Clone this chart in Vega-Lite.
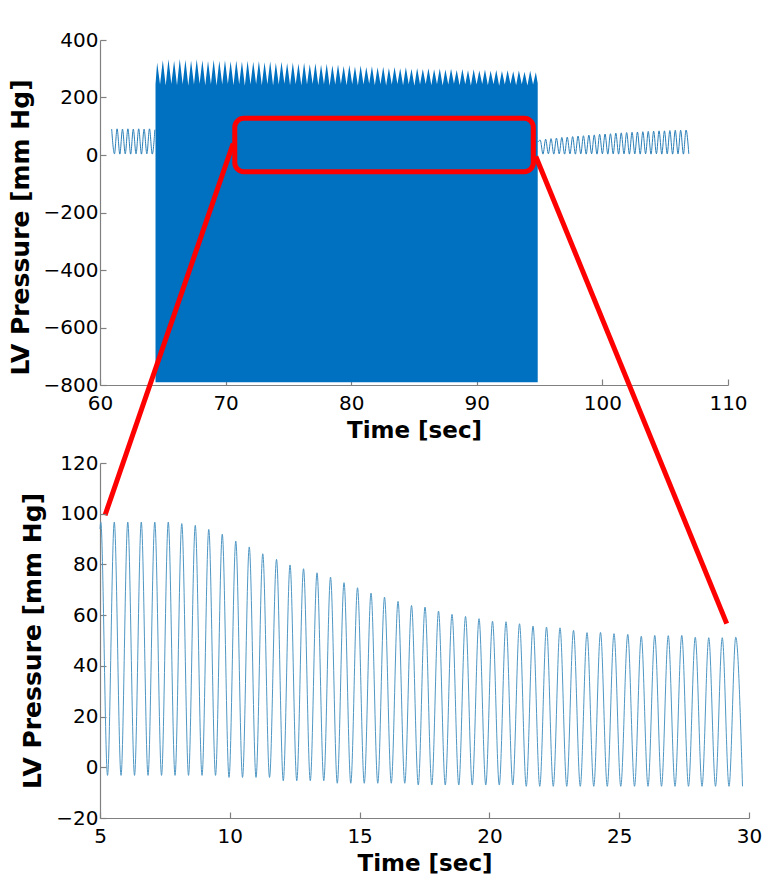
{
  "$schema": "https://vega.github.io/schema/vega-lite/v6.json",
  "autosize": {"type": "pad"},
  "padding": {"left": 8, "top": 30, "right": 10, "bottom": 0},
  "spacing": 78,
  "bounds": "flush",
  "background": "white",
  "config": {
    "view": {"stroke": null},
    "axis": {
      "grid": false,
      "domainColor": "#808080",
      "tickColor": "#808080",
      "domainWidth": 1.2,
      "tickWidth": 1.2,
      "tickSize": -6,
      "labelFont": "DejaVu Sans",
      "labelFontSize": 20,
      "labelColor": "#000000",
      "labelFlush": false,
      "labelOverlap": false,
      "titleFont": "DejaVu Sans",
      "titleFontWeight": "bold",
      "titleColor": "#000000"
    },
    "axisX": {"labelPadding": 14, "titlePadding": 6, "titleFontSize": 23},
    "axisY": {"labelPadding": 8, "titlePadding": 10, "titleFontSize": 25}
  },
  "datasets": {
    "block": [
      {"t":64.42,"p":246},
      {"t":64.55,"p":322},{"t":64.78,"p":245},
      {"t":65.00,"p":330},{"t":65.23,"p":242},
      {"t":65.45,"p":333},{"t":65.68,"p":247},
      {"t":65.90,"p":328},{"t":66.13,"p":243},
      {"t":66.35,"p":334},{"t":66.58,"p":246},
      {"t":66.80,"p":331},{"t":67.03,"p":241},
      {"t":67.25,"p":329},{"t":67.48,"p":245},
      {"t":67.70,"p":333},{"t":67.93,"p":248},
      {"t":68.15,"p":330},{"t":68.38,"p":243},
      {"t":68.60,"p":327},{"t":68.83,"p":246},
      {"t":69.05,"p":331},{"t":69.28,"p":242},
      {"t":69.50,"p":328},{"t":69.73,"p":245},
      {"t":69.95,"p":330},{"t":70.18,"p":247},
      {"t":70.40,"p":326},{"t":70.63,"p":243},
      {"t":70.85,"p":329},{"t":71.08,"p":246},
      {"t":71.30,"p":325},{"t":71.53,"p":241},
      {"t":71.75,"p":328},{"t":71.98,"p":245},
      {"t":72.20,"p":324},{"t":72.43,"p":247},
      {"t":72.65,"p":327},{"t":72.88,"p":243},
      {"t":73.10,"p":323},{"t":73.33,"p":246},
      {"t":73.55,"p":326},{"t":73.78,"p":242},
      {"t":74.00,"p":321},{"t":74.23,"p":245},
      {"t":74.45,"p":324},{"t":74.68,"p":248},
      {"t":74.90,"p":320},{"t":75.13,"p":243},
      {"t":75.35,"p":322},{"t":75.58,"p":246},
      {"t":75.80,"p":318},{"t":76.03,"p":242},
      {"t":76.25,"p":321},{"t":76.48,"p":245},
      {"t":76.70,"p":316},{"t":76.93,"p":247},
      {"t":77.15,"p":319},{"t":77.38,"p":243},
      {"t":77.60,"p":314},{"t":77.83,"p":246},
      {"t":78.05,"p":317},{"t":78.28,"p":241},
      {"t":78.50,"p":312},{"t":78.73,"p":245},
      {"t":78.95,"p":315},{"t":79.18,"p":247},
      {"t":79.40,"p":310},{"t":79.63,"p":243},
      {"t":79.85,"p":313},{"t":80.08,"p":246},
      {"t":80.30,"p":308},{"t":80.53,"p":242},
      {"t":80.75,"p":311},{"t":80.98,"p":245},
      {"t":81.20,"p":306},{"t":81.43,"p":248},
      {"t":81.65,"p":309},{"t":81.88,"p":243},
      {"t":82.10,"p":305},{"t":82.33,"p":246},
      {"t":82.55,"p":307},{"t":82.78,"p":242},
      {"t":83.00,"p":303},{"t":83.23,"p":245},
      {"t":83.45,"p":306},{"t":83.68,"p":247},
      {"t":83.90,"p":302},{"t":84.13,"p":243},
      {"t":84.35,"p":305},{"t":84.58,"p":246},
      {"t":84.80,"p":300},{"t":85.03,"p":241},
      {"t":85.25,"p":303},{"t":85.48,"p":245},
      {"t":85.70,"p":299},{"t":85.93,"p":247},
      {"t":86.15,"p":302},{"t":86.38,"p":243},
      {"t":86.60,"p":298},{"t":86.83,"p":246},
      {"t":87.05,"p":301},{"t":87.28,"p":242},
      {"t":87.50,"p":297},{"t":87.73,"p":245},
      {"t":87.95,"p":300},{"t":88.18,"p":248},
      {"t":88.40,"p":296},{"t":88.63,"p":243},
      {"t":88.85,"p":299},{"t":89.08,"p":246},
      {"t":89.30,"p":295},{"t":89.53,"p":242},
      {"t":89.75,"p":298},{"t":89.98,"p":245},
      {"t":90.20,"p":294},{"t":90.43,"p":247},
      {"t":90.65,"p":297},{"t":90.88,"p":243},
      {"t":91.10,"p":293},{"t":91.33,"p":246},
      {"t":91.55,"p":296},{"t":91.78,"p":241},
      {"t":92.00,"p":292},{"t":92.23,"p":245},
      {"t":92.45,"p":295},{"t":92.68,"p":247},
      {"t":92.90,"p":291},{"t":93.13,"p":243},
      {"t":93.35,"p":294},{"t":93.58,"p":246},
      {"t":93.80,"p":290},{"t":94.03,"p":242},
      {"t":94.25,"p":293},{"t":94.48,"p":245},
      {"t":94.70,"p":288},{"t":94.85,"p":250}
    ],
    "waves": [
      {"seg":"L","t":60.93,"p":90},{"seg":"L","t":61.15,"p":4},{"seg":"L","t":61.36,"p":91},{"seg":"L","t":61.58,"p":3},
      {"seg":"L","t":61.79,"p":90},{"seg":"L","t":62.01,"p":4},{"seg":"L","t":62.22,"p":91},{"seg":"L","t":62.44,"p":3},
      {"seg":"L","t":62.65,"p":90},{"seg":"L","t":62.87,"p":4},{"seg":"L","t":63.08,"p":91},{"seg":"L","t":63.30,"p":3},
      {"seg":"L","t":63.51,"p":90},{"seg":"L","t":63.73,"p":4},{"seg":"L","t":63.94,"p":91},{"seg":"L","t":64.16,"p":3},
      {"seg":"L","t":64.37,"p":88},
      {"seg":"R","t":94.87,"p":45},{"seg":"R","t":95.05,"p":52},{"seg":"R","t":95.27,"p":3},{"seg":"R","t":95.48,"p":55},
      {"seg":"R","t":95.70,"p":4},{"seg":"R","t":95.91,"p":57},{"seg":"R","t":96.13,"p":3},{"seg":"R","t":96.34,"p":59},
      {"seg":"R","t":96.56,"p":4},{"seg":"R","t":96.77,"p":61},{"seg":"R","t":96.99,"p":3},{"seg":"R","t":97.20,"p":62},
      {"seg":"R","t":97.42,"p":4},{"seg":"R","t":97.63,"p":64},{"seg":"R","t":97.85,"p":3},{"seg":"R","t":98.06,"p":66},
      {"seg":"R","t":98.28,"p":4},{"seg":"R","t":98.49,"p":67},{"seg":"R","t":98.71,"p":3},{"seg":"R","t":98.92,"p":69},
      {"seg":"R","t":99.14,"p":4},{"seg":"R","t":99.35,"p":70},{"seg":"R","t":99.57,"p":3},{"seg":"R","t":99.78,"p":72},
      {"seg":"R","t":100.00,"p":4},{"seg":"R","t":100.21,"p":73},{"seg":"R","t":100.43,"p":3},{"seg":"R","t":100.64,"p":74},
      {"seg":"R","t":100.86,"p":4},{"seg":"R","t":101.07,"p":76},{"seg":"R","t":101.29,"p":3},{"seg":"R","t":101.50,"p":77},
      {"seg":"R","t":101.72,"p":4},{"seg":"R","t":101.93,"p":78},{"seg":"R","t":102.15,"p":3},{"seg":"R","t":102.36,"p":79},
      {"seg":"R","t":102.58,"p":4},{"seg":"R","t":102.79,"p":80},{"seg":"R","t":103.01,"p":3},{"seg":"R","t":103.22,"p":81},
      {"seg":"R","t":103.44,"p":4},{"seg":"R","t":103.65,"p":82},{"seg":"R","t":103.87,"p":3},{"seg":"R","t":104.08,"p":83},
      {"seg":"R","t":104.30,"p":4},{"seg":"R","t":104.51,"p":84},{"seg":"R","t":104.73,"p":3},{"seg":"R","t":104.94,"p":84},
      {"seg":"R","t":105.16,"p":4},{"seg":"R","t":105.37,"p":85},{"seg":"R","t":105.59,"p":3},{"seg":"R","t":105.80,"p":86},
      {"seg":"R","t":106.02,"p":4},{"seg":"R","t":106.23,"p":86},{"seg":"R","t":106.45,"p":3},{"seg":"R","t":106.66,"p":87},
      {"seg":"R","t":106.88,"p":4}
    ],
    "box": [{"t1":70.73,"t2":94.5,"p1":-58,"p2":127.7}],
    "links": [
      {"side":"L","t":70.6,"p":40},{"side":"L","t":60.40,"p":-1253},
      {"side":"R","t":94.7,"p":-5},{"side":"R","t":109.90,"p":-1630}
    ],
    "zoom": [
      {"t":5.00,"p":94},
      {"t":5.03,"p":96.7},{"t":5.29,"p":-3.2},
      {"t":5.55,"p":96.7},{"t":5.81,"p":-3.2},
      {"t":6.07,"p":96.7},{"t":6.33,"p":-3.2},
      {"t":6.59,"p":96.7},{"t":6.85,"p":-3.2},
      {"t":7.11,"p":96.7},{"t":7.37,"p":-3.2},
      {"t":7.63,"p":96.7},{"t":7.89,"p":-3.2},
      {"t":8.15,"p":96.1},{"t":8.41,"p":-3.2},
      {"t":8.67,"p":95.4},{"t":8.93,"p":-3.2},
      {"t":9.19,"p":93.8},{"t":9.45,"p":-3.2},
      {"t":9.71,"p":91.9},{"t":9.97,"p":-4},
      {"t":10.23,"p":89.2},{"t":10.49,"p":-4},
      {"t":10.75,"p":86.9},{"t":11.01,"p":-4},
      {"t":11.27,"p":84.2},{"t":11.53,"p":-4},
      {"t":11.80,"p":82.0},{"t":12.06,"p":-5.3},
      {"t":12.32,"p":79.8},{"t":12.58,"p":-5.3},
      {"t":12.84,"p":78.3},{"t":13.10,"p":-5.3},
      {"t":13.36,"p":76.7},{"t":13.62,"p":-5.3},
      {"t":13.88,"p":75.0},{"t":14.14,"p":-6.3},
      {"t":14.40,"p":72.8},{"t":14.66,"p":-6.3},
      {"t":14.92,"p":70.8},{"t":15.18,"p":-6.3},
      {"t":15.44,"p":68.7},{"t":15.70,"p":-6.3},
      {"t":15.96,"p":67.1},{"t":16.22,"p":-6.3},
      {"t":16.48,"p":65.4},{"t":16.74,"p":-6.3},
      {"t":17.00,"p":63.8},{"t":17.26,"p":-7},
      {"t":17.52,"p":63.2},{"t":17.78,"p":-7},
      {"t":18.04,"p":61.6},{"t":18.30,"p":-7},
      {"t":18.56,"p":60.3},{"t":18.82,"p":-7},
      {"t":19.08,"p":59.5},{"t":19.34,"p":-7},
      {"t":19.60,"p":58.6},{"t":19.86,"p":-7},
      {"t":20.12,"p":57.6},{"t":20.38,"p":-7},
      {"t":20.64,"p":57.4},{"t":20.90,"p":-7},
      {"t":21.16,"p":56.6},{"t":21.42,"p":-7.5},
      {"t":21.68,"p":55.7},{"t":21.94,"p":-7.5},
      {"t":22.20,"p":55.3},{"t":22.46,"p":-7.5},
      {"t":22.72,"p":55.0},{"t":22.98,"p":-7.5},
      {"t":23.24,"p":54.0},{"t":23.50,"p":-7.5},
      {"t":23.76,"p":53.1},{"t":24.02,"p":-7.5},
      {"t":24.28,"p":53.2},{"t":24.54,"p":-7.5},
      {"t":24.80,"p":52.7},{"t":25.06,"p":-7.5},
      {"t":25.33,"p":52.4},{"t":25.59,"p":-7.5},
      {"t":25.85,"p":51.7},{"t":26.11,"p":-7.5},
      {"t":26.37,"p":52.0},{"t":26.63,"p":-7.5},
      {"t":26.89,"p":51.9},{"t":27.15,"p":-7.5},
      {"t":27.41,"p":52.0},{"t":27.67,"p":-7.5},
      {"t":27.93,"p":51.3},{"t":28.19,"p":-7.5},
      {"t":28.45,"p":51.1},{"t":28.71,"p":-7.5},
      {"t":28.97,"p":51.1},{"t":29.23,"p":-7.5},
      {"t":29.49,"p":51.3},{"t":29.75,"p":-7.5}
    ]
  },
  "vconcat": [
    {
      "width": 628,
      "height": 345,
      "layer": [
        {
          "data": {"name": "block"},
          "mark": {"type": "area", "color": "#0070C0", "interpolate": "linear"},
          "encoding": {
            "x": {"field": "t", "type": "quantitative", "title": "Time [sec]",
                  "scale": {"domain": [60, 110], "nice": false, "zero": false},
                  "axis": {"values": [60, 70, 80, 90, 100, 110]}},
            "y": {"field": "p", "type": "quantitative", "title": "LV Pressure [mm Hg]",
                  "scale": {"domain": [-800, 400], "nice": false, "zero": false},
                  "axis": {"values": [-800, -600, -400, -200, 0, 200, 400], "titleY": 187}},
            "y2": {"datum": -790}
          }
        },
        {
          "data": {"name": "waves"},
          "mark": {"type": "line", "color": "#2a7fb8", "strokeWidth": 1, "interpolate": "monotone"},
          "encoding": {
            "x": {"field": "t", "type": "quantitative"},
            "y": {"field": "p", "type": "quantitative"},
            "detail": {"field": "seg"}
          }
        },
        {
          "data": {"name": "box"},
          "mark": {"type": "rect", "filled": false, "color": "#FF0000", "strokeWidth": 5, "cornerRadius": 9},
          "encoding": {
            "x": {"field": "t1", "type": "quantitative"},
            "x2": {"field": "t2"},
            "y": {"field": "p1", "type": "quantitative"},
            "y2": {"field": "p2"}
          }
        },
        {
          "data": {"name": "links"},
          "mark": {"type": "line", "color": "#FF0000", "strokeWidth": 5, "clip": false},
          "encoding": {
            "x": {"field": "t", "type": "quantitative"},
            "y": {"field": "p", "type": "quantitative"},
            "detail": {"field": "side"}
          }
        }
      ]
    },
    {
      "width": 649,
      "height": 355,
      "data": {"name": "zoom"},
      "mark": {"type": "line", "color": "#4f97c4", "strokeWidth": 1, "interpolate": "monotone"},
      "encoding": {
        "x": {"field": "t", "type": "quantitative", "title": "Time [sec]",
              "scale": {"domain": [5, 30], "nice": false, "zero": false},
              "axis": {"values": [5, 10, 15, 20, 25, 30]}},
        "y": {"field": "p", "type": "quantitative", "title": "LV Pressure [mm Hg]",
              "scale": {"domain": [-20, 120], "nice": false, "zero": false},
              "axis": {"values": [-20, 0, 20, 40, 60, 80, 100, 120]}}
      }
    }
  ]
}
